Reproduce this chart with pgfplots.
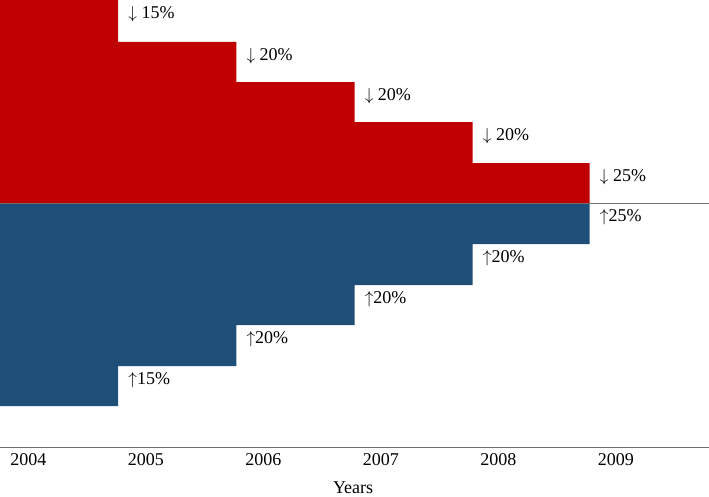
\documentclass[border=0pt]{standalone}
\usepackage{fontspec}
\setmainfont{Liberation Serif}
\usepackage{pgfplots}
\pgfplotsset{compat=1.18}
\definecolor{cutred}{RGB}{192,0,0}
\definecolor{riseblue}{RGB}{31,78,121}
\definecolor{rulegray}{RGB}{112,112,112}

\begin{document}
\begin{tikzpicture}[font=\fontsize{18}{21}\selectfont]
\begin{axis}[
    name=ax,
    scale only axis, width=709pt, height=447pt,
    xmin=0, xmax=6, ymin=0, ymax=447,
    axis x line=bottom, axis y line=none,
    x axis line style={draw=rulegray, line width=1pt, -},
    xtick={0.241,1.235,2.229,3.224,4.218,5.212},
    xticklabels={2004,2005,2006,2007,2008,2009},
    major tick length=0pt,
    xticklabel style={anchor=base, yshift=-18pt, inner sep=0pt},
    xlabel={Years},
    xlabel style={at={(axis description cs:0.498,0)}, anchor=base, yshift=-46pt, inner sep=0pt},
    clip=false,
]
% price cuts (red, above the line)
\addplot[draw=none, fill=cutred] coordinates {
    (0,244) (0,447) (1,447) (1,405) (2,405) (2,365)
    (3,365) (3,325) (4,325) (4,284) (4.99,284) (4.99,244)
} -- cycle;
% rises (blue, below the line)
\addplot[draw=none, fill=riseblue] coordinates {
    (0,244) (0,41) (1,41) (1,81) (2,81) (2,122)
    (3,122) (3,162) (4,162) (4,203) (4.99,203) (4.99,244)
} -- cycle;
\addplot[rulegray, line width=1pt] coordinates {(0,244) (6,244)};

\begin{scope}[every node/.style={anchor=base west, inner sep=0pt}]
\node at (axis cs:1.085,428.5) {$\downarrow$ 15\%};
\node at (axis cs:2.085,386.5) {$\downarrow$ 20\%};
\node at (axis cs:3.085,346.5) {$\downarrow$ 20\%};
\node at (axis cs:4.085,306.5) {$\downarrow$ 20\%};
\node at (axis cs:5.075,265.5) {$\downarrow$ 25\%};
\node at (axis cs:5.075,225.5) {$\uparrow$25\%};
\node at (axis cs:4.085,184.5) {$\uparrow$20\%};
\node at (axis cs:3.085,143.5) {$\uparrow$20\%};
\node at (axis cs:2.085,103.5) {$\uparrow$20\%};
\node at (axis cs:1.085,62.5) {$\uparrow$15\%};
\end{scope}
\end{axis}
\pgfresetboundingbox
\path[use as bounding box] (ax.north west) rectangle ([yshift=-49pt]ax.south east);
\end{tikzpicture}
\end{document}
